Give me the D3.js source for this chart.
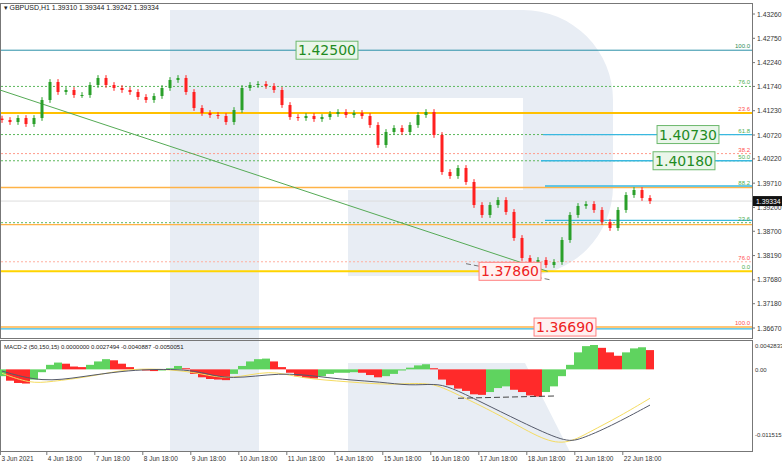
<!DOCTYPE html>
<html>
<head>
<meta charset="utf-8">
<script src="https://cdn.jsdelivr.net/npm/d3@7"></script>
<style>
  body { margin: 0; background: #fff; }
  svg { display: block; font-family: "Liberation Sans", "DejaVu Sans", sans-serif; }
</style>
</head>
<body>
<script>
// closes of each 4h bar, GBPUSD
const closes = [1.41035, 1.40993, 1.41077, 1.40951, 1.41077, 1.41455, 1.41833, 1.41623, 1.41665, 1.41560,
  1.41560, 1.41770, 1.41917, 1.41770, 1.41707, 1.41665, 1.41623, 1.41518, 1.41455, 1.41539,
  1.41707, 1.41875, 1.41917, 1.41623, 1.41287, 1.41182, 1.41140, 1.41119, 1.40993, 1.41245,
  1.41707, 1.41770, 1.41791, 1.41749, 1.41665, 1.41350, 1.41098, 1.41077, 1.41119, 1.41056,
  1.41098, 1.41161, 1.41203, 1.41140, 1.41182, 1.41119, 1.40930, 1.40511, 1.40784, 1.40867,
  1.40784, 1.40930, 1.41140, 1.41203, 1.40721, 1.39944, 1.39860, 1.40028, 1.39734, 1.39251,
  1.39042, 1.39251, 1.39356, 1.39105, 1.38559, 1.38139, 1.37971, 1.38097, 1.37992, 1.38055,
  1.38517, 1.39042, 1.39231, 1.39272, 1.39147, 1.38895, 1.38769, 1.39147, 1.39461, 1.39566,
  1.39398, 1.39334];

const macdHist = [-0.0012, -0.0020, -0.0024, -0.0025, -0.0018, -0.0005, 0.0008, 0.0012, 0.0010, 0.0005,
  0.0004, 0.0008, 0.0014, 0.0018, 0.0016, 0.0010, 0.0004, 0.0000, -0.0002, -0.0003,
  -0.0002, 0.0002, 0.0006, 0.0002, -0.0008, -0.0014, -0.0017, -0.0018, -0.0019, -0.0008,
  0.0006, 0.0014, 0.0018, 0.0019, 0.0014, 0.0004, -0.0006, -0.0012, -0.0015, -0.0016,
  -0.0012, -0.0008, -0.0006, -0.0006, -0.0005, -0.0006, -0.0010, -0.0014, -0.0012, -0.0008,
  -0.0002, 0.0003, 0.0007, 0.0009, 0.0002, -0.0018, -0.0028, -0.0034, -0.0038, -0.0044,
  -0.0045, -0.0040, -0.0033, -0.0030, -0.0036, -0.0040, -0.0046, -0.0048, -0.0040, -0.0030,
  -0.0012, 0.0008, 0.0030, 0.0041, 0.0043, 0.0038, 0.0030, 0.0024, 0.0030, 0.0037,
  0.0039, 0.0034];

// [bar index, value]
const macdMain = [[0, -0.0003], [5, -0.0023], [10, -0.0013], [15, -0.0003], [18.5, 0], [22, 0], [24.8, -0.0004],
  [28.5, -0.0019], [34.8, -0.0005], [39.8, -0.0013], [43.5, -0.0019], [47.2, -0.0022], [51, -0.0029],
  [54.1, -0.0025], [56, -0.0031], [59.8, -0.0057], [64.8, -0.0092], [70.4, -0.0129], [72.2, -0.0124],
  [76, -0.0101], [81, -0.0063]];
const macdSignal = [[0, -0.0007], [3.5, -0.0025], [6, -0.0022], [11, -0.0013], [16, 0.0002], [21, 0], [24.8, -0.0007],
  [28.5, -0.0019], [33.5, 0], [37.2, -0.0016], [43.5, -0.0022], [48.5, -0.0028], [53.5, -0.0022],
  [56, -0.0038], [62.2, -0.0080], [67.2, -0.0122], [70.4, -0.0134], [73.5, -0.0110], [77.2, -0.0083],
  [81, -0.0051]];

const priceTicks = [1.43260, 1.42750, 1.42240, 1.41740, 1.41230, 1.40720, 1.40220, 1.39710, 1.39200,
  1.38700, 1.38190, 1.37680, 1.37180, 1.36670];
const timeLabels = ["3 Jun 2021", "4 Jun 18:00", "7 Jun 18:00", "8 Jun 18:00", "9 Jun 18:00", "10 Jun 18:00",
  "11 Jun 18:00", "14 Jun 18:00", "15 Jun 18:00", "16 Jun 18:00", "17 Jun 18:00", "18 Jun 18:00",
  "21 Jun 18:00", "22 Jun 18:00"];
const timeIdx = [-0.2, 5.6, 11.6, 17.6, 23.6, 29.6, 35.6, 41.6, 47.6, 53.6, 59.6, 65.6, 71.6, 77.6];

// fibo levels: [price, label, colour]
const fiboLevels = [
  [1.42500, "100.0", "#2e8b57"], [1.41740, "76.0", "#4caf50"], [1.41180, "23.6", "#ff5050"],
  [1.40730, "61.8", "#4caf50"], [1.40330, "38.2", "#ff5050"], [1.40180, "50.0", "#4caf50"],
  [1.39620, "88.2", "#4caf50"], [1.38880, "23.6", "#4caf50"], [1.38060, "76.0", "#ff5050"],
  [1.37860, "0.0", "#4caf50"], [1.36690, "100.0", "#ff5050"]];
const targets = [[1.42500, "1.42500", "g"], [1.40730, "1.40730", "g"], [1.40180, "1.40180", "g"],
  [1.37860, "1.37860", "r"], [1.36690, "1.36690", "r"]];

const W = 782, H = 463, R = 752;
const svg = d3.select("body").append("svg").attr("width", W).attr("height", H);

const x = d3.scaleLinear().domain([0, 81]).range([2, 650]);
const y = d3.scaleLinear().domain([1.36670, 1.43260]).range([328, 14]);
const ym = d3.scaleLinear().domain([-0.0137, 0.0043]).range([447, 345]);

// watermark
const wm = "#e8edf4";
svg.append("path").attr("fill", wm)
  .attr("d", "M170,10 H523 A90,90 0 0 1 613,100 V186 A90,90 0 0 1 523,276 H348 V190 H523 V98 H259 V452 H170 Z");
svg.append("path").attr("fill", wm).attr("d", "M348,363 H525 L570,452 H348 Z");

// panels
svg.append("rect").attr("x", 0.5).attr("y", 3.5).attr("width", R).attr("height", 335)
  .attr("fill", "none").attr("stroke", "#777");
svg.append("rect").attr("x", 0.5).attr("y", 340.5).attr("width", R).attr("height", 111)
  .attr("fill", "none").attr("stroke", "#777");

// fibo grid lines
const dotted = [[1.41740, "#5cb85c"], [1.40730, "#5cb85c"], [1.40180, "#5cb85c"], [1.38880, "#5cb85c"],
  [1.40330, "#ff9a8a"], [1.38060, "#ffb0a0"]];
dotted.forEach(d => svg.append("line").attr("x1", 1).attr("x2", R).attr("y1", y(d[0])).attr("y2", y(d[0]))
  .attr("stroke", d[1]).attr("stroke-dasharray", "2,2"));
const solid = [[1.41180, "#ffc000", 2], [1.39620, "#ffb347", 1.5], [1.38840, "#ffb347", 1.2],
  [1.37860, "#ffd400", 2], [1.36690, "#ffb347", 1.5]];
solid.forEach(d => svg.append("line").attr("x1", 1).attr("x2", R).attr("y1", y(d[0])).attr("y2", y(d[0]))
  .attr("stroke", d[1]).attr("stroke-width", d[2]));
svg.append("line").attr("x1", 1).attr("x2", R).attr("y1", y(1.42500)).attr("y2", y(1.42500))
  .attr("stroke", "#2a8fa8").attr("stroke-width", 1);
[[1.40730, 543], [1.40180, 541], [1.39650, 545], [1.38930, 545], [1.36650, 1]].forEach(d =>
  svg.append("line").attr("x1", d[1]).attr("x2", R).attr("y1", y(d[0])).attr("y2", y(d[0]))
    .attr("stroke", "#39b8e0").attr("stroke-width", 1.3));
svg.append("line").attr("x1", 1).attr("x2", R).attr("y1", y(1.39334)).attr("y2", y(1.39334))
  .attr("stroke", "#ddd");

fiboLevels.forEach(d => svg.append("text").attr("x", 750).attr("y", y(d[0]) - 2)
  .attr("text-anchor", "end").attr("font-size", 6).attr("fill", d[2]).text(d[1]));

// trend lines
svg.append("line").attr("x1", 0).attr("y1", 90).attr("x2", x(68.2)).attr("y2", y(1.37860))
  .attr("stroke", "#55aa55");
svg.append("line").attr("x1", x(58)).attr("y1", y(1.3802)).attr("x2", x(68.6)).attr("y2", y(1.3768))
  .attr("stroke", "#555").attr("stroke-dasharray", "5,3").attr("stroke-width", 0.8);

// candles
const bars = closes.map((c, i) => {
  const o = i ? closes[i - 1] : c + 0.0003;
  return { i, o, c, h: Math.max(o, c) + 0.0006, l: Math.min(o, c) - 0.0006 };
});
const cg = svg.append("g").selectAll("g").data(bars).join("g")
  .attr("stroke", d => d.c >= d.o ? "#2aa02a" : "#ff2020")
  .attr("fill", d => d.c >= d.o ? "#2aa02a" : "#ff2020");
cg.append("line").attr("x1", d => x(d.i)).attr("x2", d => x(d.i))
  .attr("y1", d => y(d.h)).attr("y2", d => y(d.l));
cg.append("rect").attr("x", d => x(d.i) - 1.5).attr("width", 3)
  .attr("y", d => y(Math.max(d.o, d.c))).attr("height", d => Math.max(1, Math.abs(y(d.o) - y(d.c))))
  .attr("stroke", "none");

// target boxes
targets.forEach(d => {
  const g = d[2] === "g";
  const px = { "1.42500": 327, "1.40730": 688, "1.40180": 684, "1.37860": 510, "1.36690": 565 }[d[1]];
  const t = svg.append("text").attr("x", px).attr("y", y(d[0]) + 5).attr("text-anchor", "middle")
    .attr("font-size", 14).attr("font-family", "DejaVu Sans").attr("fill", g ? "#1f8b1f" : "#ee2222").text(d[1]);
  const bb = t.node().getBBox();
  svg.insert("rect", () => t.node()).attr("x", bb.x - 2).attr("y", bb.y - 1)
    .attr("width", bb.width + 4).attr("height", bb.height + 2)
    .attr("fill", g ? "#eaf6ea" : "#fff0f0").attr("stroke", g ? "#6cb86c" : "#ff8080");
});

// price axis
const ax = svg.append("g").attr("font-size", 6.8).attr("fill", "#333");
priceTicks.forEach(p => {
  ax.append("line").attr("x1", R).attr("x2", R + 3).attr("y1", y(p)).attr("y2", y(p)).attr("stroke", "#777");
  ax.append("text").attr("x", 757).attr("y", y(p) + 2.5).text(p.toFixed(5));
});
ax.append("rect").attr("x", 753).attr("y", y(1.39334) - 5).attr("width", 29).attr("height", 10).attr("fill", "#111");
ax.append("text").attr("x", 756).attr("y", y(1.39334) + 2.5).attr("fill", "#fff").text("1.39334");

svg.append("text").attr("x", 4).attr("y", 10).attr("font-size", 7).attr("fill", "#222")
  .text("\u25BE GBPUSD,H1  1.39310 1.39344 1.39242 1.39334");

// MACD
svg.append("g").selectAll("rect").data(macdHist).join("rect")
  .attr("x", (d, i) => x(i) - 4).attr("width", 8)
  .attr("y", d => ym(Math.max(0, d))).attr("height", d => Math.abs(ym(d) - ym(0)))
  .attr("fill", (d, i) => (i && d < macdHist[i - 1]) ? "#ff2a2a" : "#5fd35f");
const ln = d3.line().x(d => x(d[0])).y(d => ym(d[1])).curve(d3.curveBasis);
svg.append("path").attr("d", ln(macdSignal)).attr("fill", "none").attr("stroke", "#f5dc60");
svg.append("path").attr("d", ln(macdMain)).attr("fill", "none").attr("stroke", "#555a6a");
svg.append("line").attr("x1", x(57)).attr("x2", x(69)).attr("y1", ym(-0.0051)).attr("y2", ym(-0.0047))
  .attr("stroke", "#444").attr("stroke-dasharray", "6,3");
svg.append("text").attr("x", 4).attr("y", 349).attr("font-size", 6).attr("fill", "#222")
  .text("MACD-2 (50,150,15) 0.0000000 0.0027494 -0.0040887 -0.0050051");
[0.0042833, 0, -0.011515].forEach(v => {
  svg.append("text").attr("x", 755).attr("y", ym(v) + 2.5).attr("font-size", 6).attr("fill", "#333")
    .text(v === 0 ? "0.00" : v.toString());
});

// time axis
timeLabels.forEach((t, k) => {
  svg.append("line").attr("x1", x(timeIdx[k])).attr("x2", x(timeIdx[k])).attr("y1", 452).attr("y2", 455).attr("stroke", "#777");
  svg.append("text").attr("x", x(timeIdx[k]) + 1).attr("y", 461).attr("font-size", 6.5).attr("fill", "#333").text(t);
});
</script>
</body>
</html>
